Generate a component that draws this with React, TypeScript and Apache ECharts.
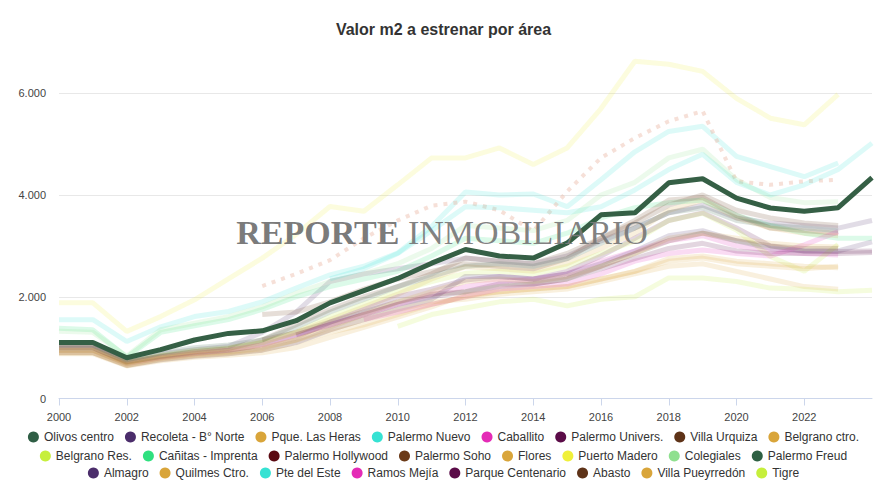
import React, { useEffect, useRef } from "react";
import * as echarts from "echarts";

const years = Array.from({ length: 25 }, (_, i) => String(2000 + i));
const _ = null;

const titleText = "Valor m2 a estrenar por área";

const olivosCentro = [1100, 1100, 800, 960, 1150, 1280, 1330, 1530, 1880, 2120, 2360, 2660, 2930, 2800, 2760, 3055, 3610, 3650, 4240, 4320, 3940, 3745, 3680, 3750, 4340];
const recoleta = [1000, 1000, 730, 880, 960, 1020, 1300, 1700, 2300, 2450, 2550, 2650, 2760, 2700, 2650, 2800, 3100, 3350, 3650, 3800, 3550, 3450, 3400, 3350, 3500];
const pqueLasHeras = [1000, 1000, 720, 830, 920, 980, 1100, 1300, 1550, 1800, 2050, 2350, 2590, 2550, 2500, 2650, 2950, 3250, 3700, 3900, 3550, 3350, 3250, 3200, _];
const palermoNuevo = [1550, 1550, 1120, 1410, 1610, 1710, 1900, 2170, 2430, 2600, 2860, 3380, 4060, 4000, 4020, 3770, 4300, 4850, 5250, 5350, 4760, 4560, 4360, 4630, _];
const caballito = [950, 950, 690, 800, 880, 950, 1050, 1250, 1450, 1650, 1850, 2050, 2200, 2300, 2350, 2450, 2700, 2900, 3100, 3200, 3000, 2900, 2850, 2820, _];
const palermoUnivers = [1000, 1000, 720, 820, 900, 950, 1050, 1200, 1500, 1750, 2000, 2150, 2330, 2400, 2350, 2500, 2800, 3150, 3500, 3650, 3350, 3000, 2900, 2890, 2900];
const villaUrquiza = [1000, 1000, 710, 830, 920, 980, 1150, 1450, 1750, 2000, 2200, 2450, 2760, 2700, 2650, 2850, 3150, 3450, 3800, 4000, 3700, 3550, 3450, 3400, _];
const belgranoCtro = [950, 950, 680, 800, 880, 920, 1000, 1150, 1400, 1650, 1900, 2100, 2300, 2350, 2300, 2400, 2600, 2850, 3150, 3250, 3150, 3050, 3000, 2980, _];
const belgranoRes = [950, 950, 700, 850, 950, 1000, 1100, 1300, 1600, 1850, 2100, 2300, 2460, 2500, 2450, 2600, 2850, 3100, 3500, 3640, 3310, 2790, 2500, 3030, _];
const canitas = [1380, 1350, 810, 1300, 1430, 1550, 1750, 2000, 2200, 2350, 2500, 2800, 3150, 3100, 3050, 3250, 3550, 3750, 3850, 3900, 3600, 3400, 3250, 3150, 3150];
const palermoHollywood = [_, _, _, _, _, _, 2210, 2450, 2720, 3150, 3500, 3790, 3870, 3700, 3290, 4070, 4730, 5120, 5450, 5650, 4270, 4200, 4270, 4300, _];
const palermoSoho = [_, _, _, _, _, _, 1650, 1700, 1900, 2150, 2350, 2500, 2650, 2600, 2550, 2750, 3150, 3500, 3900, 3950, 3600, 3350, 3300, 3250, _];
const flores = [900, 900, 660, 760, 840, 880, 950, 1100, 1300, 1450, 1650, 1850, 2000, 2100, 2150, 2200, 2350, 2500, 2750, 2800, 2700, 2650, 2600, 2570, _];
const puertoMadero = [1880, 1880, 1320, 1610, 1940, 2350, 2760, 3225, 3775, 3680, 4200, 4730, 4730, 4925, 4600, 4925, 5700, 6630, 6570, 6430, 5900, 5510, 5380, 5980, _];
const colegiales = [1320, 1300, 830, 1350, 1480, 1610, 1800, 2070, 2300, 2450, 2650, 2950, 3400, 3350, 3300, 3500, 4000, 4250, 4730, 4900, 4300, 3950, 3850, 3870, _];
const palermoFreud = [1050, 1050, 760, 900, 1000, 1050, 1150, 1400, 1700, 1950, 2200, 2400, 2600, 2650, 2600, 2750, 3050, 3350, 3650, 3750, 3500, 3400, 3350, 3300, _];
const almagro = [900, 900, 650, 760, 830, 880, 950, 1100, 1350, 1550, 1750, 1950, 2400, 2400, 2350, 2450, 2650, 2900, 3200, 3300, 3100, 2950, 2900, 2900, 3080];
const quilmesCtro = [880, 880, 640, 740, 810, 850, 900, 1000, 1200, 1400, 1600, 1800, 2035, 2100, 2150, 2200, 2350, 2500, 2700, 2760, 2650, 2600, 2550, 2600, _];
const pteDelEste = [_, _, _, _, _, _, _, _, 2350, 2550, 2850, 3300, 3770, 3750, 3700, 3650, 3770, 4100, 4500, 4800, 4250, 4000, 4200, 4500, 5020];
const ramosMejia = [_, _, _, _, _, _, _, _, _, 1550, 1700, 1850, 2000, 2150, 2200, 2250, 2450, 2700, 2850, 2920, 2850, 2800, 3020, 3280, _];
const parqueCentenario = [_, _, _, _, _, _, _, 1250, 1450, 1650, 1850, 2000, 2100, 2250, 2250, 2350, 2550, 2750, 2950, 3050, 2900, 2850, 2850, 2850, 2870];
const abasto = [_, _, _, _, _, _, 1150, 1300, 1500, 1700, 1900, 2050, 2100, 2200, 2250, 2350, 2600, 2850, 3100, 3250, 3100, 3000, 2950, 2950, _];
const villaPueyrredon = [900, 900, 650, 780, 850, 900, 980, 1150, 1350, 1550, 1750, 1900, 1950, 2050, 2100, 2150, 2300, 2450, 2600, 2650, 2500, 2350, 2200, 2150, _];
const tigre = [_, _, _, _, _, _, _, _, _, _, 1420, 1650, 1780, 1900, 1950, 1820, 1950, 2000, 2370, 2370, 2300, 2170, 2150, 2100, 2130];

const seriesNames = [
  "Olivos centro", "Recoleta - B° Norte", "Pque. Las Heras", "Palermo Nuevo", "Caballito", "Palermo Univers.", "Villa Urquiza", "Belgrano ctro.",
  "Belgrano Res.", "Cañitas - Imprenta", "Palermo Hollywood", "Palermo Soho", "Flores", "Puerto Madero", "Colegiales", "Palermo Freud",
  "Almagro", "Quilmes Ctro.", "Pte del Este", "Ramos Mejía", "Parque Centenario", "Abasto", "Villa Pueyrredón", "Tigre",
];
const seriesValues = [
  olivosCentro, recoleta, pqueLasHeras, palermoNuevo, caballito, palermoUnivers, villaUrquiza, belgranoCtro,
  belgranoRes, canitas, palermoHollywood, palermoSoho, flores, puertoMadero, colegiales, palermoFreud,
  almagro, quilmesCtro, pteDelEste, ramosMejia, parqueCentenario, abasto, villaPueyrredon, tigre,
];
const seriesColors = [
  "#2f5e45", "#4b2d6b", "#d9a53a", "#36e2d3", "#e42bb6", "#5b0c48", "#5e3318", "#d9a53a",
  "#c6ef3c", "#2fe07f", "#5c0a12", "#6b3a17", "#d9a53a", "#f0f03a", "#8fe08f", "#2e6043",
  "#4b2d6b", "#d9a53a", "#36e2d3", "#e42bb6", "#5b0c48", "#5e3318", "#d9a53a", "#c6ef3c",
];

const FONT = "'Liberation Sans', Arial, Helvetica, sans-serif";

function fmtThousands(v: number): string {
  return String(v).replace(/\B(?=(\d{3})+(?!\d))/g, ".");
}

export default function App() {
  const ref = useRef<HTMLDivElement>(null);

  useEffect(() => {
    if (!ref.current) return;
    const chart = echarts.init(ref.current, undefined, { renderer: "svg" });

    const series = seriesNames.map((name, i) => {
      const main = i === 0;
      const dotted = name === "Palermo Hollywood";
      return {
        name,
        type: "line",
        data: seriesValues[i],
        showSymbol: false,
        symbol: "circle",
        connectNulls: false,
        z: main ? 10 : 2,
        itemStyle: { color: seriesColors[i] },
        lineStyle: main
          ? { color: "#355f45", width: 5, opacity: 1 }
          : dotted
          ? { color: "#e9b5a3", width: 4, opacity: 0.42, type: [4, 6] }
          : { color: seriesColors[i], width: 5, opacity: 0.17 },
        emphasis: { disabled: true },
      };
    });

    const legendBase = {
      left: "center",
      padding: 0,
      icon: "circle",
      itemWidth: 11,
      itemHeight: 11,
      itemGap: 11,
      textStyle: { fontSize: 12, color: "#333", fontFamily: FONT },
    };

    chart.setOption({
      animation: false,
      backgroundColor: "#ffffff",
      title: {
        text: titleText,
        left: "center",
        top: 21,
        padding: 0,
        textStyle: { fontSize: 16, fontWeight: "bold", color: "#333", fontFamily: FONT },
      },
      legend: [
        { ...legendBase, top: 431, data: seriesNames.slice(0, 8) },
        { ...legendBase, top: 450, data: seriesNames.slice(8, 16) },
        { ...legendBase, top: 467, data: seriesNames.slice(16, 24) },
      ],
      grid: { left: 59, right: 15, top: 42.4, bottom: 100.5 },
      xAxis: {
        type: "category",
        data: years,
        boundaryGap: false,
        axisLine: { lineStyle: { color: "#ccd6eb", width: 1 } },
        axisTick: {
          show: true,
          length: 7,
          interval: (idx: number) => idx % 2 === 0 && idx < 24,
          lineStyle: { color: "#ccd6eb" },
        },
        axisLabel: {
          interval: (idx: number) => idx % 2 === 0 && idx < 24,
          fontSize: 11,
          color: "#444",
          fontFamily: FONT,
          margin: 13,
        },
        splitLine: { show: false },
      },
      yAxis: {
        type: "value",
        min: 0,
        max: 7000,
        interval: 1000,
        axisLine: { show: false },
        axisTick: { show: false },
        axisLabel: {
          fontSize: 11,
          color: "#444",
          fontFamily: FONT,
          margin: 13,
          formatter: (v: number) => (v % 2000 === 0 && v < 7000 ? fmtThousands(v) : ""),
        },
        splitLine: {
          show: true,
          lineStyle: { color: ["#e8e8e8", "rgba(0,0,0,0)"], width: 1 },
        },
      },
      graphic: [
        {
          type: "text",
          x: 442,
          y: 232,
          z: 100,
          silent: true,
          style: {
            text: "{b|REPORTE} {r|INMOBILIARIO}",
            align: "center",
            verticalAlign: "middle",
            fill: "#737373",
            opacity: 0.95,
            font: "34px 'Liberation Serif', 'Times New Roman', serif",
            rich: {
              b: { fontWeight: "bold", fontSize: 34, fontFamily: "'Liberation Serif', 'Times New Roman', serif", fill: "#737373" },
              r: { fontWeight: "normal", fontSize: 34, fontFamily: "'Liberation Serif', 'Times New Roman', serif", fill: "#7a7a7a" },
            },
          },
        },
      ],
      series,
    });

    return () => {
      chart.dispose();
    };
  }, []);

  return (
    <div
      ref={ref}
      style={{ position: "fixed", left: 0, top: 0, width: 887, height: 499, background: "#fff" }}
    />
  );
}
